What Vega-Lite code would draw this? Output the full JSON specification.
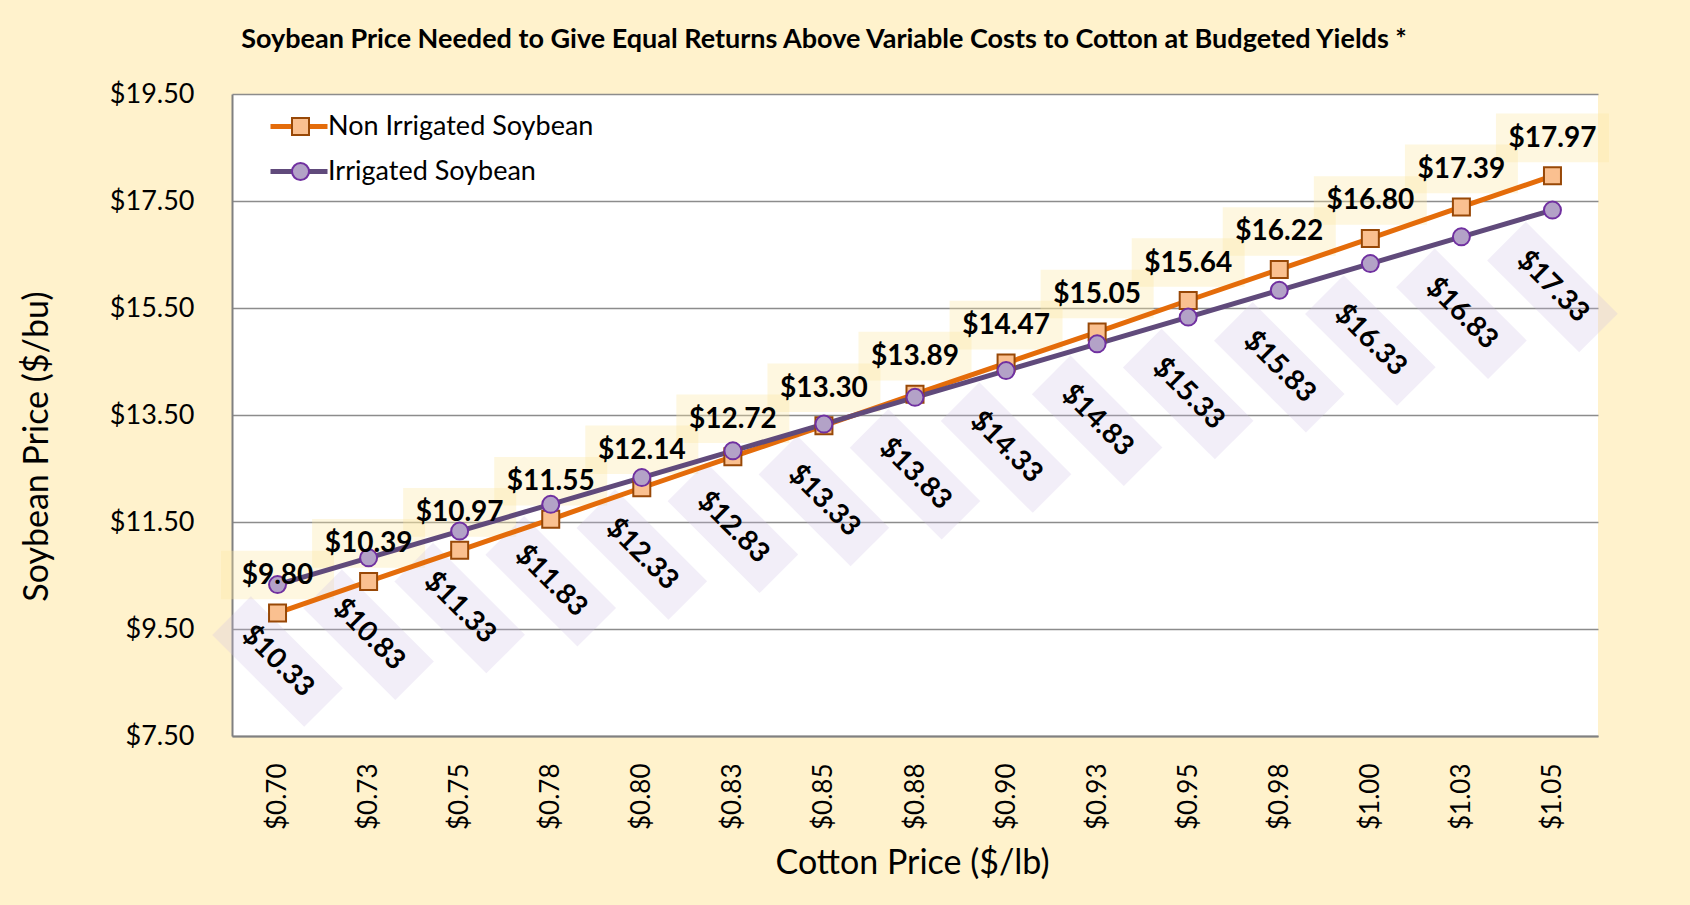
{
  "$schema": "https://vega.github.io/schema/vega-lite/v6.json",
  "width": 1366,
  "height": 642,
  "autosize": {"type": "none"},
  "padding": {"left": 232, "top": 94, "right": 92, "bottom": 169},
  "background": "#FFF2CC",
  "title": {
    "text": "Soybean Price Needed to Give Equal Returns Above Variable Costs to Cotton at Budgeted Yields *",
    "fontSize": 27,
    "fontWeight": "bold",
    "color": "black",
    "anchor": "middle",
    "baseline": "middle",
    "dx": -91,
    "offset": 13
  },
  "config": {
    "font": "Lato",
    "view": {"stroke": null, "fill": "white"},
    "axis": {"ticks": false, "domainColor": "#808080", "domainWidth": 2, "labelColor": "black", "titleColor": "black"}
  },
  "data": {
    "values": [
      {"cotton": "$0.70", "series": "Non Irrigated Soybean", "price": 9.80},
      {"cotton": "$0.73", "series": "Non Irrigated Soybean", "price": 10.39},
      {"cotton": "$0.75", "series": "Non Irrigated Soybean", "price": 10.97},
      {"cotton": "$0.78", "series": "Non Irrigated Soybean", "price": 11.55},
      {"cotton": "$0.80", "series": "Non Irrigated Soybean", "price": 12.14},
      {"cotton": "$0.83", "series": "Non Irrigated Soybean", "price": 12.72},
      {"cotton": "$0.85", "series": "Non Irrigated Soybean", "price": 13.30},
      {"cotton": "$0.88", "series": "Non Irrigated Soybean", "price": 13.89},
      {"cotton": "$0.90", "series": "Non Irrigated Soybean", "price": 14.47},
      {"cotton": "$0.93", "series": "Non Irrigated Soybean", "price": 15.05},
      {"cotton": "$0.95", "series": "Non Irrigated Soybean", "price": 15.64},
      {"cotton": "$0.98", "series": "Non Irrigated Soybean", "price": 16.22},
      {"cotton": "$1.00", "series": "Non Irrigated Soybean", "price": 16.80},
      {"cotton": "$1.03", "series": "Non Irrigated Soybean", "price": 17.39},
      {"cotton": "$1.05", "series": "Non Irrigated Soybean", "price": 17.97},
      {"cotton": "$0.70", "series": "Irrigated Soybean", "price": 10.33},
      {"cotton": "$0.73", "series": "Irrigated Soybean", "price": 10.83},
      {"cotton": "$0.75", "series": "Irrigated Soybean", "price": 11.33},
      {"cotton": "$0.78", "series": "Irrigated Soybean", "price": 11.83},
      {"cotton": "$0.80", "series": "Irrigated Soybean", "price": 12.33},
      {"cotton": "$0.83", "series": "Irrigated Soybean", "price": 12.83},
      {"cotton": "$0.85", "series": "Irrigated Soybean", "price": 13.33},
      {"cotton": "$0.88", "series": "Irrigated Soybean", "price": 13.83},
      {"cotton": "$0.90", "series": "Irrigated Soybean", "price": 14.33},
      {"cotton": "$0.93", "series": "Irrigated Soybean", "price": 14.83},
      {"cotton": "$0.95", "series": "Irrigated Soybean", "price": 15.33},
      {"cotton": "$0.98", "series": "Irrigated Soybean", "price": 15.83},
      {"cotton": "$1.00", "series": "Irrigated Soybean", "price": 16.33},
      {"cotton": "$1.03", "series": "Irrigated Soybean", "price": 16.83},
      {"cotton": "$1.05", "series": "Irrigated Soybean", "price": 17.33}
    ]
  },
  "encoding": {
    "x": {
      "field": "cotton",
      "type": "nominal",
      "sort": null,
      "scale": {"type": "point", "padding": 0.5},
      "axis": {
        "labelAngle": -90,
        "labelAlign": "right",
        "labelBaseline": "middle",
        "labelFontSize": 26,
        "labelPadding": 27,
        "title": "Cotton Price ($/lb)",
        "titleFontSize": 34,
        "titleFontWeight": "normal",
        "titleX": 680,
        "titleY": 127,
        "titleAlign": "center",
        "titleBaseline": "middle",
        "grid": false
      }
    },
    "y": {
      "field": "price",
      "type": "quantitative",
      "scale": {"domain": [7.5, 19.5], "nice": false, "zero": false},
      "axis": {
        "values": [7.5, 9.5, 11.5, 13.5, 15.5, 17.5, 19.5],
        "format": "$.2f",
        "grid": true,
        "gridColor": "#8C8C8C",
        "gridWidth": 1.5,
        "labelFontSize": 27,
        "labelPadding": 38,
        "title": "Soybean Price ($/bu)",
        "titleFontSize": 34,
        "titleFontWeight": "normal",
        "titleAngle": -90,
        "titleX": -195,
        "titleY": 352,
        "titleAlign": "center",
        "titleBaseline": "middle"
      }
    }
  },
  "layer": [
    {
      "transform": [{"filter": "datum.series === 'Non Irrigated Soybean'"}],
      "mark": {"type": "point", "shape": "M-1,-0.43H1V0.43H-1Z", "size": 12769, "filled": true, "fill": "#FCE7A0", "opacity": 0.33, "strokeWidth": 0, "yOffset": -38}
    },
    {
      "transform": [{"filter": "datum.series === 'Irrigated Soybean'"}],
      "mark": {"type": "point", "shape": "M-1,-0.42H1V0.42H-1Z", "size": 16900, "angle": 45, "filled": true, "fill": "#CDBDE3", "opacity": 0.26, "strokeWidth": 0, "yOffset": 77}
    },
    {
      "mark": {"type": "line", "strokeWidth": 5},
      "encoding": {
        "stroke": {
          "field": "series",
          "type": "nominal",
          "scale": {"domain": ["Non Irrigated Soybean", "Irrigated Soybean"], "range": ["#E46C0A", "#604A7B"]},
          "legend": {
            "orient": "none",
            "legendX": 36,
            "legendY": 10,
            "title": null,
            "symbolType": "stroke",
            "symbolSize": 3249,
            "symbolStrokeWidth": 5,
            "labelFontSize": 27,
            "labelColor": "black",
            "labelOffset": -2,
            "labelLimit": 0,
            "padding": 0,
            "rowPadding": 0,
            "clipHeight": 45
          }
        }
      }
    },
    {
      "mark": {"type": "point", "filled": true, "size": 289, "strokeWidth": 2, "opacity": 1},
      "encoding": {
        "shape": {
          "field": "series",
          "type": "nominal",
          "scale": {"domain": ["Non Irrigated Soybean", "Irrigated Soybean"], "range": ["square", "circle"]},
          "legend": {
            "orient": "none", "legendX": 55, "legendY": 10, "title": null,
            "symbolSize": 289, "symbolStrokeWidth": 2, "labelFontSize": 27, "labelExpr": "''",
            "labelOffset": 4, "padding": 0, "rowPadding": 0, "clipHeight": 45
          }
        },
        "fill": {
          "field": "series",
          "type": "nominal",
          "scale": {"domain": ["Non Irrigated Soybean", "Irrigated Soybean"], "range": ["#FAC090", "#B3A2C7"]},
          "legend": {
            "orient": "none", "legendX": 55, "legendY": 10, "title": null,
            "symbolSize": 289, "symbolStrokeWidth": 2, "labelFontSize": 27, "labelExpr": "''",
            "labelOffset": 4, "padding": 0, "rowPadding": 0, "clipHeight": 45
          }
        },
        "stroke": {
          "field": "series",
          "type": "nominal",
          "scale": {"domain": ["Non Irrigated Soybean", "Irrigated Soybean"], "range": ["#984807", "#7030A0"]},
          "legend": {
            "orient": "none", "legendX": 55, "legendY": 10, "title": null,
            "symbolSize": 289, "symbolStrokeWidth": 2, "labelFontSize": 27, "labelExpr": "''",
            "labelOffset": 4, "padding": 0, "rowPadding": 0, "clipHeight": 45
          }
        }
      }
    },
    {
      "transform": [{"filter": "datum.series === 'Non Irrigated Soybean'"}],
      "mark": {"type": "text", "fontSize": 28, "fontWeight": "bold", "color": "black", "align": "center", "baseline": "middle", "yOffset": -37},
      "encoding": {"text": {"field": "price", "type": "quantitative", "format": "$.2f"}}
    },
    {
      "transform": [{"filter": "datum.series === 'Irrigated Soybean'"}],
      "mark": {"type": "text", "fontSize": 28, "fontWeight": "bold", "color": "black", "align": "center", "baseline": "middle", "angle": 45, "yOffset": 77},
      "encoding": {"text": {"field": "price", "type": "quantitative", "format": "$.2f"}}
    }
  ],
  "resolve": {"scale": {"stroke": "independent", "fill": "independent", "shape": "independent"}}
}
